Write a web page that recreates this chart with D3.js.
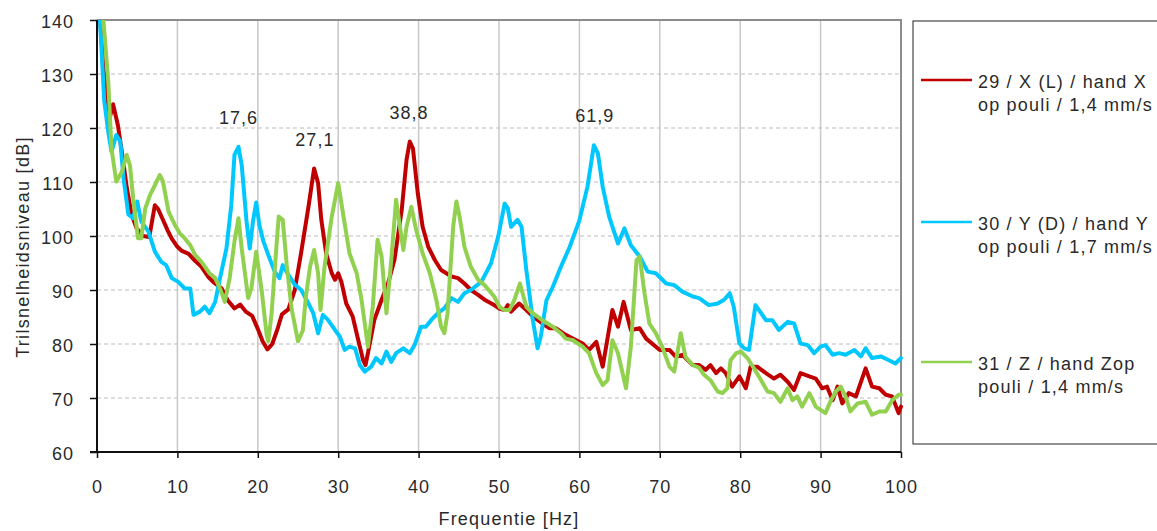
<!DOCTYPE html>
<html>
<head>
<meta charset="utf-8">
<script src="https://cdn.jsdelivr.net/npm/d3@7"></script>
<style>
    body { margin: 0; background: #fff; }
    text { font-family: 'Liberation Sans', Arial, sans-serif; fill: #2a2a2a; }
</style>
</head>
<body>
<div class="container"></div>
<script>
const w = 1157;
const h = 531;
const margin = {
    top: 20,
    left: 97,
    right: 256,
    bottom: 79,
}

const xTicks = [0, 10, 20, 30, 40, 50, 60, 70, 80, 90, 100];
const yTicks = [60, 70, 80, 90, 100, 110, 120, 130, 140];

const seriesNames = [
    ['29 / X (L) / hand X', 'op pouli / 1,4 mm/s'],
    ['30 / Y (D) / hand Y', 'op pouli / 1,7 mm/s'],
    ['31 / Z / hand Zop', 'pouli / 1,4 mm/s'],
];
const seriesColors = ['#c00000', '#00c8ff', '#92d050'];

const peakFreqs = [17.6, 27.1, 38.8, 61.9];
const peakLevels = [116.5, 112.5, 117.5, 116.8];
const peakLabels = ['17,6', '27,1', '38,8', '61,9'];

const redPts = [[0.3,142],[0.8,131],[1.3,125],[1.6,122],[2.0,124.4],[2.6,120.5],[3.2,114.5],[3.7,109],[4.3,104],[4.9,101.5],[5.7,100],[6.5,99.8],[7.2,105.7],[7.6,105],[8.2,103],[8.8,101],[9.3,99.5],[10.0,98],[10.5,97.3],[11.4,96.7],[12.2,95.4],[13.0,94.3],[13.8,92.5],[14.6,91.3],[15.5,90.3],[16.3,88],[17.1,86.6],[17.8,87.3],[18.5,86],[19.3,85.2],[20.0,82.8],[20.6,80.5],[21.2,79],[21.8,80],[22.5,83],[23.0,85.5],[23.8,86.4],[24.6,90],[25.4,97],[26.3,105.4],[27.0,112.5],[27.5,109.8],[27.9,103],[28.5,96.8],[29.2,93.1],[29.6,91.9],[30.0,93.1],[30.4,91.5],[31.0,87.5],[31.8,85.1],[32.5,80.7],[33.1,77],[33.4,76.1],[33.7,78.3],[34.5,84.5],[35.4,88.2],[36.2,91.2],[37.0,95.6],[37.9,104.8],[38.5,114.1],[38.9,117.5],[39.3,116.2],[39.9,107.9],[40.5,101.7],[41.2,98],[42.0,95.6],[42.8,93.7],[44.1,92.5],[44.9,92.2],[45.7,91.2],[46.5,90],[47.4,89.1],[48.2,88.2],[49.4,87.2],[50.1,86.5],[50.7,86.3],[51.1,87.2],[51.5,86],[52.5,87.5],[53.4,86.3],[54.2,85.1],[55.4,83.8],[56.3,82.9],[57.1,82.9],[58.3,81.7],[59.6,80.7],[60.4,80.1],[61.2,78.9],[62.1,80.4],[62.9,75.8],[64.1,86.3],[64.8,83.2],[65.5,87.8],[66.4,82.6],[67.5,82.9],[68.3,81],[70.0,78.9],[71.2,78.9],[72.0,77.6],[72.8,78],[74.1,76.1],[74.9,76.1],[75.7,75.2],[76.3,76.1],[77,74.6],[77.6,75.5],[78.2,74.6],[79.0,72.1],[79.9,74],[80.7,71.8],[81.3,75.8],[82.1,75.8],[83.2,74.6],[84.2,73.6],[85.0,74.3],[85.9,73],[86.7,71.5],[87.5,74.6],[88.6,74],[89.4,73.6],[90.2,71.8],[90.8,72.1],[91.5,69.6],[92.1,72.1],[92.7,69],[93.5,70.9],[94.4,70.3],[95.6,75.5],[96.4,72.1],[97.3,71.8],[98.1,70.6],[98.9,70.3],[99.7,67.2],[100,68.4]];

const bluePts = [[0.3,142],[0.9,125],[1.4,119.3],[1.8,115.6],[2.4,118.7],[2.9,117.5],[3.3,110.7],[3.9,104],[4.5,103.3],[5.0,106.4],[5.5,102.7],[6.4,100.8],[7.2,97.1],[8.0,95.2],[8.6,94.6],[9.3,92.2],[10.1,91.5],[10.9,90.3],[11.6,90.3],[12.0,85.4],[12.8,86],[13.4,86.9],[14.0,85.7],[14.7,87.8],[15.3,92.2],[16.1,97.7],[16.7,105.7],[17.1,115],[17.6,116.5],[18.0,113.1],[18.6,102.7],[19.0,97.7],[19.4,102.7],[19.8,106.2],[20.2,102],[20.7,99],[21.3,96.5],[22.1,93.4],[22.7,92.2],[23.1,94.6],[23.8,92.8],[24.6,91],[25.4,90],[26.3,87.5],[26.9,85.7],[27.5,82],[28.1,85.4],[28.7,84.5],[29.6,82.6],[30.2,81.4],[30.8,78.9],[31.4,79.5],[32.1,79.2],[32.7,76.1],[33.3,74.9],[34.1,75.8],[34.7,77.4],[35.4,76.4],[36,78.6],[36.6,76.7],[37.2,78.3],[38.1,79.2],[38.9,78.3],[39.5,79.8],[40.3,83.2],[40.9,83.2],[41.6,84.5],[42.4,85.7],[43.2,86.6],[44.1,88.5],[44.9,87.8],[45.7,89.4],[46.5,90],[47.8,91.5],[49.0,94.9],[49.9,99.9],[50.7,106],[51.1,105.1],[51.5,101.7],[52.3,103],[52.8,101.7],[53.4,93.7],[54.2,84.5],[54.8,79.2],[55.2,81.4],[55.9,88.1],[56.7,90.6],[57.7,94.3],[58.8,98],[60,102.9],[61.0,109.1],[61.8,116.8],[62.3,115.3],[62.9,109.1],[63.7,103.6],[64.8,98.6],[65.6,101.4],[66.4,98.3],[67.5,96.2],[68.5,93.4],[69.5,93.1],[70.8,91.2],[71.8,90.9],[72.8,89.7],[74.1,88.8],[74.9,88.5],[76.1,87.2],[77.2,87.5],[78.0,88.2],[78.7,89.4],[79.2,86.9],[79.9,80.1],[80.5,79.2],[81.1,78.9],[81.9,87.2],[82.6,85.7],[83.2,84.4],[84.0,84.4],[84.8,82.6],[85.9,84.1],[86.7,83.8],[87.5,80.1],[88.4,79.8],[89.2,78.3],[90.0,79.5],[90.6,79.8],[91.5,78],[92.3,78.3],[93.1,78],[94.2,78.9],[95,77.7],[95.6,79.2],[96.4,77.4],[97.5,77.7],[98.5,77],[99.3,76.4],[100,77.4]];

const greenPts = [[0.5,145],[0.8,140],[1.4,128.6],[1.8,116.2],[2.4,110.1],[3.1,111.9],[3.7,115],[4.1,113.1],[4.5,107],[5.1,99.6],[5.5,99.6],[6.0,105.1],[6.6,107.6],[7.2,109.4],[7.8,111.3],[8.2,110.1],[8.9,104.5],[9.7,102],[10.3,100.5],[10.9,99.6],[11.6,98.3],[12.2,96.5],[13.0,95.2],[14.0,93.1],[14.7,92.2],[15.3,90.3],[15.9,87.8],[16.5,92.2],[17.1,99],[17.6,103.3],[18.0,97.7],[18.8,88.5],[19.2,90.3],[19.8,97.1],[20.5,89.7],[21.1,81.7],[21.3,80.5],[21.7,85.4],[22.3,97.7],[22.6,103.6],[23.1,103],[23.6,94.6],[24.2,86.6],[25.0,80.5],[25.6,82.5],[26.0,89],[26.5,94.3],[27.0,97.4],[27.5,93.1],[27.8,86.3],[28.3,94.3],[29.2,103.6],[30.0,109.8],[30.6,104.2],[31.4,96.8],[32.3,93.1],[32.9,88.2],[33.7,79.5],[34.3,86.9],[34.9,99.3],[35.4,96.2],[36.0,85.7],[36.6,95.6],[37.2,106.7],[37.8,100.5],[38.1,97.4],[38.5,101.7],[39.1,105.4],[39.7,101.1],[40.5,96.8],[41.4,93.1],[42.2,88.2],[42.8,83.2],[43.2,82],[43.6,85.7],[44.3,101.7],[44.7,106.4],[45.1,103.6],[45.7,98],[46.5,94.3],[47.4,91.9],[48.2,90.9],[49.4,88.8],[50.1,86.8],[50.7,86.3],[51.3,86.3],[51.9,88.1],[52.6,91.2],[53.4,86.9],[54.2,85.7],[55.4,84.4],[56.7,83.2],[57.7,82],[58.3,81],[59.2,80.7],[60.4,79.5],[61.2,78.3],[62.1,74.6],[62.9,72.4],[63.5,73.3],[64.1,80.7],[64.8,78.3],[65.8,71.8],[66.4,79.5],[67.1,95.5],[67.5,96.2],[68.1,89.4],[68.7,83.8],[69.5,82],[70.3,79.5],[71.2,75.8],[71.8,74.9],[72.6,82],[73.2,77.6],[74.1,76.1],[74.9,75.6],[75.5,74.3],[76.3,73.3],[77.2,71.2],[77.8,70.9],[78.4,71.8],[78.8,77],[79.5,78.3],[80.1,78.6],[80.9,77.4],[81.7,75.5],[82.6,73.3],[83.4,71.2],[84.2,70.9],[85.0,69.3],[85.9,71.8],[86.5,69.6],[87.1,70.3],[87.7,68.4],[88.6,70.9],[89.4,68.4],[90.0,67.8],[90.6,67.2],[91.3,69.6],[91.9,71.2],[92.5,72.1],[93.1,70.3],[93.7,67.5],[94.6,69],[95.6,69.3],[96.4,66.9],[97.3,67.5],[98.1,67.5],[98.9,69.6],[99.7,70.6],[100,70.6]];

const allSeries = [redPts, bluePts, greenPts];

const svg = d3.select('.container')
    .append('svg')
    .attr('width', w)
    .attr('height', h)

const xScale = d3.scaleLinear().domain([0, 100]).range([margin.left, w - margin.right]);
const yScale = d3.scaleLinear().domain([60, 140]).range([h - margin.bottom, margin.top]);

const x0 = xScale(0), x1 = xScale(100), y0 = yScale(60), y1 = yScale(140);

// grid
svg.append('g')
    .selectAll('line')
    .data(xTicks.slice(1, -1))
    .join('line')
    .attr('x1', d => xScale(d)).attr('x2', d => xScale(d))
    .attr('y1', y1).attr('y2', y0)
    .attr('stroke', '#c8c8c8')
    .attr('stroke-width', 1.5);

svg.append('g')
    .selectAll('line')
    .data(yTicks.slice(1, -1))
    .join('line')
    .attr('x1', x0).attr('x2', x1)
    .attr('y1', d => yScale(d)).attr('y2', d => yScale(d))
    .attr('stroke', '#bdbdbd')
    .attr('stroke-width', 1)
    .attr('stroke-dasharray', '4,3');

svg.append('path')
    .attr('d', `M${x0},${y1}H${x1}V${y0}`)
    .attr('fill', 'none')
    .attr('stroke', '#8c8c8c')
    .attr('stroke-width', 2);

// axes
const xAxis = d3.axisBottom(xScale).tickValues(xTicks).tickSize(6).tickFormat(d3.format('d'));
svg.append('g')
    .attr('transform', `translate(0, ${y0})`)
    .call(xAxis)
    .call(g => g.select('.domain').attr('stroke', '#111').attr('stroke-width', 2).attr('d', `M${x0 - 7},0H${x1}`))
    .call(g => g.selectAll('.tick line').attr('stroke', '#111').attr('stroke-width', 1.5))
    .call(g => g.selectAll('.tick text')
        .attr('y', 41).attr('dy', 0)
        .style('font-size', '18px')
        .style('font-family', "'Liberation Sans', Arial, sans-serif")
        .style('letter-spacing', '1px')
        .attr('fill', '#2a2a2a'));

const yAxis = d3.axisLeft(yScale).tickValues(yTicks).tickSize(7).tickFormat(d3.format('d'));
svg.append('g')
    .attr('transform', `translate(${x0}, 0)`)
    .call(yAxis)
    .call(g => g.select('.domain').attr('stroke', '#111').attr('stroke-width', 2).attr('d', `M0,${y0}V${y1}`))
    .call(g => g.selectAll('.tick line').attr('stroke', '#111').attr('stroke-width', 1.5))
    .call(g => g.selectAll('.tick text')
        .attr('x', -23).attr('dy', 7)
        .style('font-size', '18px')
        .style('font-family', "'Liberation Sans', Arial, sans-serif")
        .style('letter-spacing', '1px')
        .attr('fill', '#2a2a2a'));

svg.append('text')
    .text('Frequentie [Hz]')
    .attr('x', 509)
    .attr('y', 525)
    .attr('text-anchor', 'middle')
    .style('font-size', '18px')
    .style('letter-spacing', '1.2px');

svg.append('text')
    .text('Trilsnelheidsniveau [dB]')
    .attr('transform', `translate(29, 247) rotate(-90)`)
    .attr('text-anchor', 'middle')
    .style('font-size', '18px')
    .style('letter-spacing', '1.3px');

// curves
svg.append('clipPath')
    .attr('id', 'plot-clip')
    .append('rect')
    .attr('x', x0).attr('y', y1)
    .attr('width', x1 - x0 + 3).attr('height', y0 - y1);

const line = d3.line()
    .x(d => xScale(d[0]))
    .y(d => yScale(d[1]));

svg.append('g')
    .attr('clip-path', 'url(#plot-clip)')
    .selectAll('path')
    .data(allSeries)
    .join('path')
    .attr('d', line)
    .attr('fill', 'none')
    .attr('stroke', (d, i) => seriesColors[i])
    .attr('stroke-width', 4)
    .attr('stroke-linejoin', 'round')
    .attr('stroke-linecap', 'round');

// peak labels
svg.append('g')
    .selectAll('text')
    .data(peakFreqs)
    .join('text')
    .text((d, i) => peakLabels[i])
    .attr('x', d => xScale(d))
    .attr('y', (d, i) => yScale(peakLevels[i]) - 23)
    .attr('text-anchor', 'middle')
    .style('font-size', '18px')
    .style('letter-spacing', '1px');

// legend
svg.append('rect')
    .attr('x', 913)
    .attr('y', 21)
    .attr('width', 260)
    .attr('height', 423)
    .attr('fill', 'none')
    .attr('stroke', '#222')
    .attr('stroke-width', 1);

const legendY = [80, 222, 362];
const legend = svg.append('g')
    .selectAll('g')
    .data(seriesNames)
    .join('g')
    .attr('transform', (d, i) => `translate(921, ${legendY[i]})`);

legend.append('line')
    .attr('x1', 0).attr('x2', 51)
    .attr('stroke', (d, i) => seriesColors[i])
    .attr('stroke-width', 2.5);

legend.append('text')
    .text(d => d[0])
    .attr('x', 57)
    .attr('y', 8)
    .style('font-size', '18px')
    .style('letter-spacing', '1.2px');

legend.append('text')
    .text(d => d[1])
    .attr('x', 57)
    .attr('y', 31)
    .style('font-size', '18px')
    .style('letter-spacing', '1.2px');
</script>
</body>
</html>
